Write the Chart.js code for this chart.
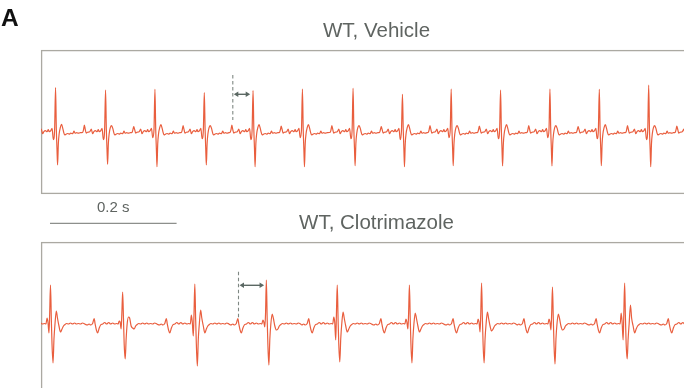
<!DOCTYPE html>
<html>
<head>
<meta charset="utf-8">
<script src="https://cdn.jsdelivr.net/npm/chart.js@4/dist/chart.umd.min.js"></script>
<style>
  html, body { margin: 0; padding: 0; background: #ffffff; overflow: hidden; width: 684px; height: 388px; }
  #wrap { position: relative; width: 684px; height: 388px; overflow: hidden; }
  canvas { position: absolute; left: 0; }
  #c1 { top: 0; }
  #c2 { top: 192px; }
  #lblA { position: absolute; left: 1px; top: 5.7px; font: bold 24.5px "Liberation Sans", Arial, sans-serif; line-height: 24.5px; color: #111111; }
</style>
</head>
<body>
<div id="wrap">
  <canvas id="c2" width="712" height="200"></canvas>
  <canvas id="c1" width="712" height="236"></canvas>
  <div id="lblA">A</div>
</div>
<script>
// ---------------- DATA (time in ms, amplitude in arbitrary units) ----------------
const panelTitles = ['WT, Vehicle', 'WT, Clotrimazole'];
const xRangeMs = [0, 1060];

// WT, Vehicle: R-peak times and per-beat amplitudes
const vehicleBeatMs = [23, 102, 180, 258, 335, 413, 493, 571, 648, 726, 804, 882, 960, 1038];
const vehicleR = [44, 41.7, 42.4, 39, 41, 42.7, 43.4, 37.4, 42.7, 41.7, 42.7, 42.4, 46.7, 42];
const vehicleS = [-33.3, -32.6, -35, -33.3, -35, -35, -34, -35, -34, -34.3, -34.3, -34, -35, -34];
const vehicleJ = [7.4, 6, 7, 6, 7, 7, 6, 7, 6, 7, 6, 7, 6, 7];
const vehicleP = [6.5, 6.7, 5, 6, 6.5, 5.5, 6, 5, 6, 5.5, 6, 5, 6, 5.5];
const vehicleNotch = [-8, -8, -6, -7, -8, -6, -7, -8, -6, -7, -6, -7, -8, -7];
// one beat of the vehicle trace: [ms from R peak, amplitude or per-beat key]
const vehicleBeatShape = [
  [-36, -0.5], [-34.8, 2], [-33.5, 'P'], [-32, 2], [-30.5, -1.5], [-28.5, -0.5], [-25, 0],
  [-22.5, 2.5], [-20.5, -2], [-18.5, 0], [-16, 1], [-13.5, 0], [-11.5, 2], [-10, 0], [-7.5, 1],
  [-5.5, 3.4], [-3.5, 'notch'], [-1.5, 2], [0, 'R'], [1.2, 3], [2.3, -18], [3.2, 'S'], [4.4, -12],
  [5.7, -2], [7.5, 4], [9.5, 'J'], [11.5, 3], [13, -1], [14.5, -3.3], [16.5, -2.5], [19, -1.8],
  [21.5, -2.5], [24, -1.5], [27, -2], [29, 0.5], [31, -1.5], [33.5, -1], [36, -1.5], [39, -1]
];
const vehicleIntervalMs = [303, 332];

// WT, Clotrimazole
const clotBeatMs = [15, 129, 243, 356, 468, 582, 696, 808, 922, 1036];
const clotR = [39, 32, 40, 44, 39, 39, 41, 37, 41, 40];
const clotS = [-39, -35, -42, -41, -38, -39, -39, -40, -35, -38];
const clotJ = [13, 7, 14, 10, 12, 11, 12, 10, 19, 12];
const clotJDip = [-8, -4, -9, -6, -8, -8, -7, -6, -9, -7];
const clotPreBump = [6, 3, 9, 4, 7, 5, 5, 5, 11, 6];
const clotPreNotch = [-9, -5, -12, -3, -16, -5, -8, -6, -16, -8];
const clotBeatShape = [
  [-56, -1], [-53, 0], [-50.5, -1], [-47.5, 0.5], [-45, 5.5], [-43.5, 0], [-41.5, -6], [-39.5, -9],
  [-37, -4], [-34.8, -1], [-31.6, 0], [-28.4, 1.5], [-25.3, 0], [-22, 1.5], [-19, 0], [-15.8, 1],
  [-12.6, 0], [-9.5, 0.5], [-7.1, 0], [-5.5, 'pre'], [-4, 2], [-2.4, 'notch'], [-1.3, 10], [0, 'R'],
  [1.3, 5], [2.4, -20], [4, 'S'], [5.5, -15], [7.1, 0], [9.2, 'J'], [11, 6], [13.4, -2],
  [15.8, 'jdip'], [18.2, -5], [20.5, -2], [23, -0.5], [25.3, 0.5], [28.4, 0], [31.6, 1], [34.8, 0],
  [38, 1], [41, 0], [44, 0.5], [47.4, 0], [50.5, 1], [54, 0]
];
const clotIntervalMs = [312, 354];

const scaleBarMs = 200;
const scaleBarLabel = '0.2 s';

// ---------------- BUILD ----------------
function composeTrace(beatMs, shape, params) {
  const pts = [];
  beatMs.forEach((t, i) => {
    for (const [dt, v] of shape) {
      pts.push({ x: t + dt, y: typeof v === 'string' ? params[v][i] : v });
    }
  });
  return pts;
}

const vehicleTrace = composeTrace(vehicleBeatMs, vehicleBeatShape, {
  R: vehicleR, S: vehicleS, J: vehicleJ, P: vehicleP, notch: vehicleNotch
});
const clotTrace = composeTrace(clotBeatMs, clotBeatShape, {
  R: clotR, S: clotS, J: clotJ, jdip: clotJDip, pre: clotPreBump, notch: clotPreNotch
});

const FONT = '"Liberation Sans", Arial, Helvetica, sans-serif';
const TRACE = '#e95e3e';

const boxPlugin = {
  id: 'panelBox',
  beforeDatasetsDraw(chart) {
    const { ctx, chartArea: a } = chart;
    ctx.save();
    ctx.strokeStyle = '#aba9a2';
    ctx.lineWidth = 1.3;
    ctx.strokeRect(a.left + 0.6, a.top + 0.6, a.right - a.left - 1.2, a.bottom - a.top - 1.2);
    ctx.restore();
  }
};

function arrowHead(ctx, x, y, dir) {
  ctx.beginPath();
  ctx.moveTo(x, y);
  ctx.lineTo(x - dir * 4.5, y - 2.8);
  ctx.lineTo(x - dir * 4.5, y + 2.8);
  ctx.closePath();
  ctx.fill();
}

const intervalPlugin = {
  id: 'intervalMarker',
  afterDatasetsDraw(chart, args, o) {
    if (!o || !o.range) return;
    const { ctx } = chart;
    const xs = chart.scales.x, ys = chart.scales.y;
    const x0 = xs.getPixelForValue(o.range[0]);
    const x1 = xs.getPixelForValue(o.range[1]);
    const yA = ys.getPixelForValue(o.arrowY);
    ctx.save();
    ctx.strokeStyle = '#7f8883';
    ctx.lineWidth = 1.1;
    ctx.setLineDash([3.5, 2.5]);
    ctx.beginPath();
    ctx.moveTo(x0, ys.getPixelForValue(o.dash[0]));
    ctx.lineTo(x0, ys.getPixelForValue(o.dash[1]));
    ctx.stroke();
    ctx.setLineDash([]);
    ctx.strokeStyle = '#5b6863';
    ctx.fillStyle = '#5b6863';
    ctx.lineWidth = 1.4;
    ctx.beginPath();
    ctx.moveTo(x0 + 3, yA);
    ctx.lineTo(x1 - 3, yA);
    ctx.stroke();
    arrowHead(ctx, x0 + 1, yA, -1);
    arrowHead(ctx, x1 - 1, yA, 1);
    ctx.restore();
  }
};

const scaleBarPlugin = {
  id: 'scaleBar',
  afterDraw(chart, args, o) {
    if (!o || !o.show) return;
    const { ctx } = chart;
    const xs = chart.scales.x;
    const x0 = xs.getPixelForValue(o.from);
    const x1 = xs.getPixelForValue(o.from + o.length);
    const y = chart.chartArea.bottom + o.offset;
    ctx.save();
    ctx.strokeStyle = '#8d8f8c';
    ctx.lineWidth = 1.3;
    ctx.beginPath();
    ctx.moveTo(x0, y);
    ctx.lineTo(x1, y);
    ctx.stroke();
    ctx.fillStyle = '#5f6461';
    ctx.font = '15px ' + FONT;
    ctx.textAlign = 'center';
    ctx.textBaseline = 'middle';
    ctx.fillText(o.label, (x0 + x1) / 2, y - 15);
    ctx.restore();
  }
};

function makePanel(id, title, trace, yRange, padBottom, interval, scaleBar) {
  return new Chart(document.getElementById(id), {
    type: 'line',
    data: {
      datasets: [{
        data: trace,
        borderColor: TRACE,
        borderWidth: 1.2,
        pointRadius: 0,
        cubicInterpolationMode: 'monotone',
        fill: false,
        borderJoinStyle: 'round'
      }]
    },
    options: {
      responsive: false,
      animation: false,
      devicePixelRatio: 1,
      layout: { padding: { left: 41, right: 0, top: 0, bottom: padBottom } },
      scales: {
        x: { type: 'linear', min: xRangeMs[0], max: xRangeMs[1], display: false },
        y: { type: 'linear', min: yRange[0], max: yRange[1], display: false }
      },
      plugins: {
        legend: { display: false },
        tooltip: { enabled: false },
        title: {
          display: true,
          text: title,
          color: '#5f6461',
          font: { family: FONT, size: 20.5, weight: 'normal' },
          padding: { top: 19.4, bottom: 6 }
        },
        intervalMarker: interval,
        scaleBar: scaleBar
      }
    },
    plugins: [boxPlugin, intervalPlugin, scaleBarPlugin]
  });
}

makePanel('c1', panelTitles[0], vehicleTrace, [-62.3, 81.7], 42,
  { range: vehicleIntervalMs, arrowY: 37.4, dash: [56.7, 11.7] },
  { show: true, from: 14.2, length: scaleBarMs, offset: 29.3, label: scaleBarLabel });

makePanel('c2', panelTitles[1], clotTrace, [-66, 82], 2,
  { range: clotIntervalMs, arrowY: 38.7, dash: [52.3, 5.7] },
  { show: false });
</script>
</body>
</html>
